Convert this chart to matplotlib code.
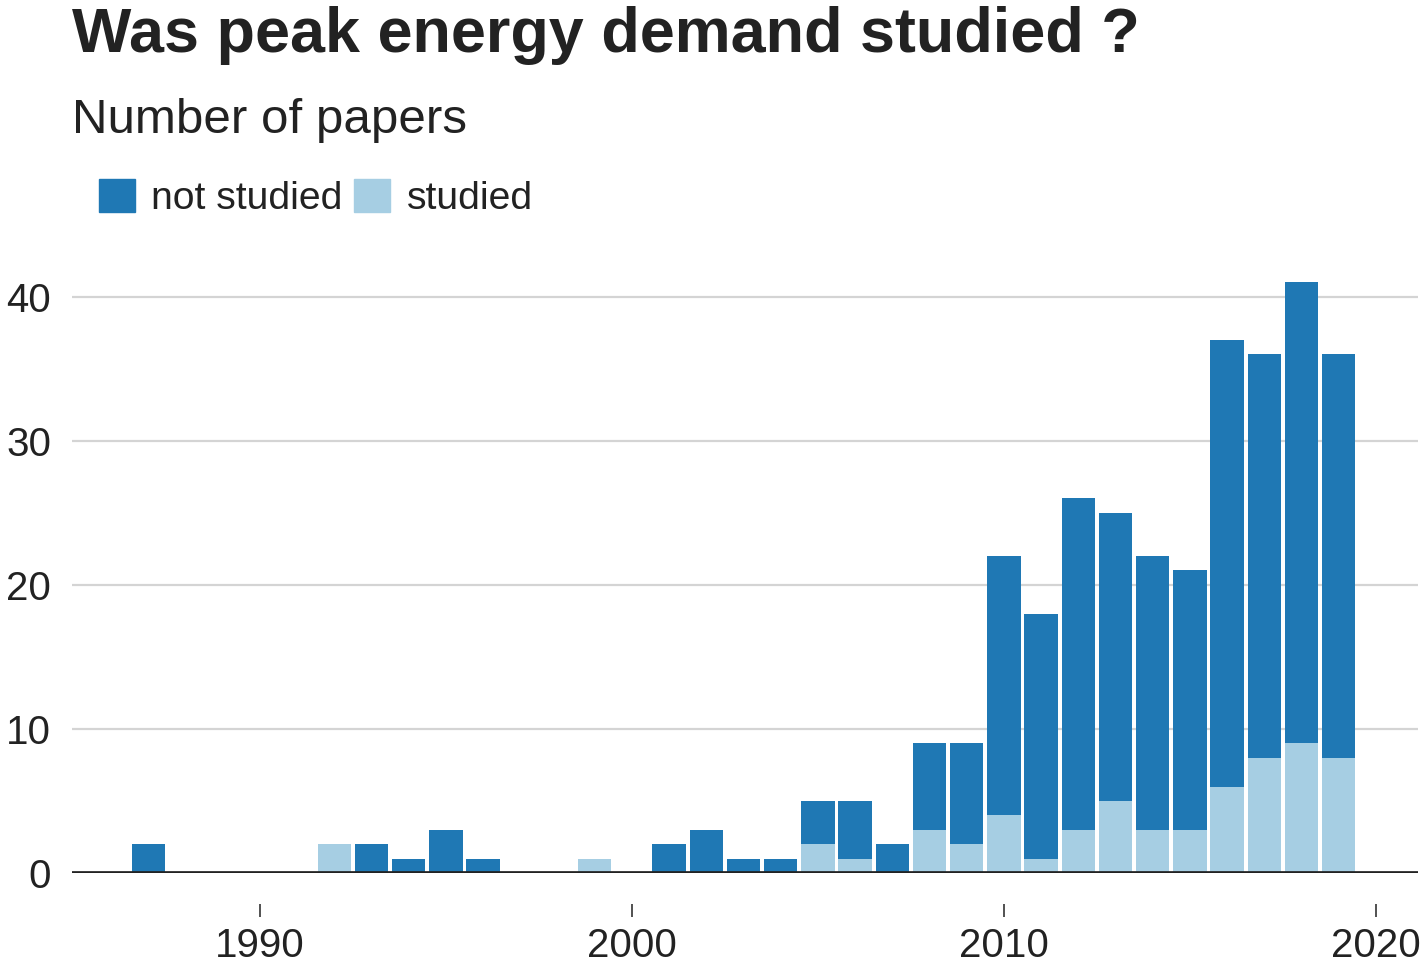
import matplotlib
matplotlib.use('Agg')
import matplotlib.pyplot as plt
from matplotlib.patches import Patch

plt.rcParams['font.family'] = ['Liberation Sans', 'DejaVu Sans']

# papers per year, split by whether peak demand was studied
years = [1987, 1992, 1993, 1994, 1995, 1996, 1999, 2001, 2002, 2003, 2004,
         2005, 2006, 2007, 2008, 2009, 2010, 2011, 2012, 2013, 2014, 2015,
         2016, 2017, 2018, 2019]
studied = [0, 2, 0, 0, 0, 0, 1, 0, 0, 0, 0,
           2, 1, 0, 3, 2, 4, 1, 3, 5, 3, 3,
           6, 8, 9, 8]
not_studied = [2, 0, 2, 1, 3, 1, 0, 2, 3, 1, 1,
               3, 4, 2, 6, 7, 18, 17, 23, 20, 19, 18,
               31, 28, 32, 28]

dark = '#1f78b4'
light = '#a6cee3'

W, H = 1425, 965
fig = plt.figure(figsize=(W / 100, H / 100), dpi=100)
ax = fig.add_axes([72 / W, 1 - 873 / H, (1418 - 72) / W, (873 - 262) / H])

ax.bar(years, studied, width=0.9, color=light, zorder=3)
ax.bar(years, not_studied, bottom=studied, width=0.9, color=dark, zorder=3)

ax.set_xlim(1984.95, 2021.13)
ax.set_ylim(0, 42.4)
ax.set_yticks([0, 10, 20, 30, 40])
ax.set_xticks([1990, 2000, 2010, 2020])

ax.grid(axis='y', color='#d4d4d4', lw=1.6, zorder=0)
ax.axhline(0, color='#222222', lw=3.4, zorder=4)
for s in ax.spines.values():
    s.set_visible(False)
ax.spines['bottom'].set_position(('outward', 22))

ax.tick_params(axis='y', length=0, pad=15, labelsize=29, labelcolor='#222222')
ax.tick_params(axis='x', length=9, width=1.2, color='#333333', pad=8,
               labelsize=29, labelcolor='#222222', direction='out')

fig.text(72 / W, 1 - 52 / H, 'Was peak energy demand studied ?', fontsize=45.3,
         fontweight='bold', color='#222222', ha='left', va='baseline')
fig.text(72 / W, 1 - 133 / H, 'Number of papers', fontsize=35.5,
         color='#222222', ha='left', va='baseline')

handles = [Patch(color=dark, label='not studied'), Patch(color=light, label='studied')]
leg = fig.legend(handles=handles, loc='upper left', bbox_to_anchor=(83 / W, 1 - 163 / H),
                 ncol=2, frameon=False, fontsize=28.2, handlelength=0.92, handleheight=0.92,
                 handletextpad=0.42, columnspacing=0.3, borderaxespad=0)
for t in leg.get_texts():
    t.set_color('#222222')

fig.savefig('out.png', dpi=100)
